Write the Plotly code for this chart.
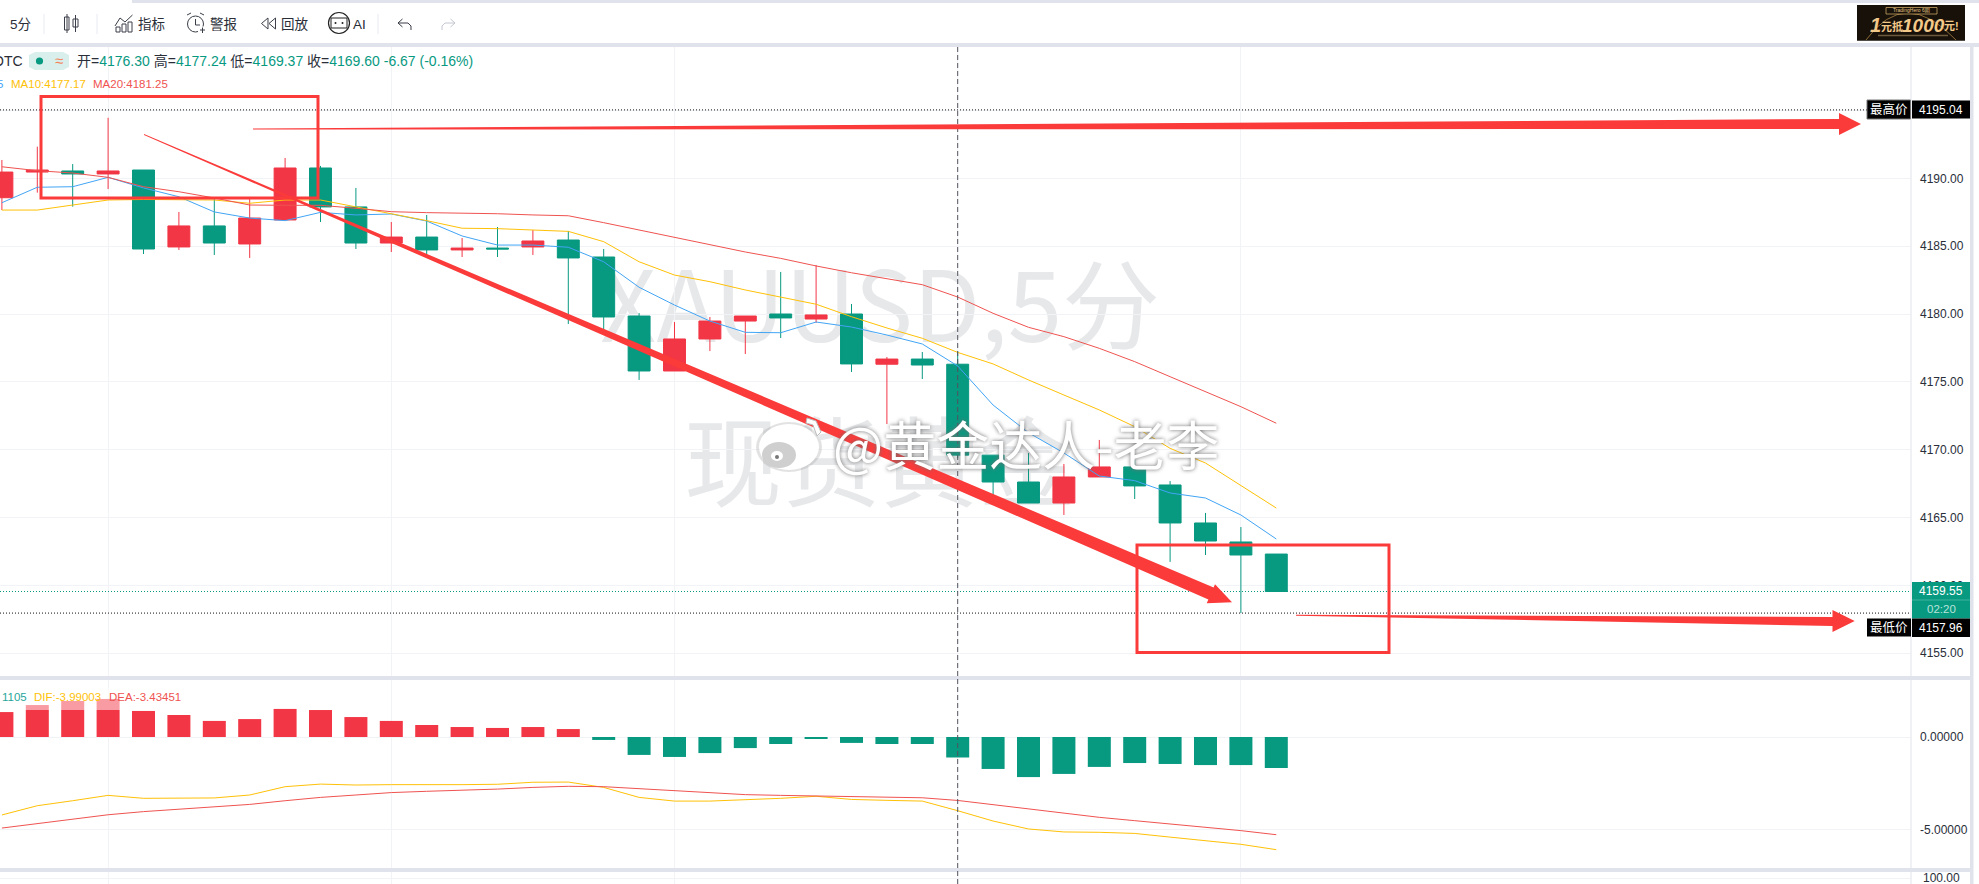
import plotly.graph_objects as go

# XAUUSD 5-minute session
candle_index = list(range(37))
opens = [4188.57, 4190.46, 4190.54, 4190.32, 4190.61, 4184.94, 4186.49, 4185.16, 4186.93, 4190.76,
         4187.89, 4185.23, 4185.67, 4184.72, 4184.86, 4184.94, 4185.45, 4184.20, 4179.85, 4175.80,
         4178.16, 4179.48, 4180.00, 4179.63, 4180.00, 4176.30, 4176.68, 4176.30, 4169.60, 4167.62,
         4166.07, 4167.99, 4168.73, 4167.40, 4164.60, 4163.20, 4162.31]
highs = [4191.35, 4192.33, 4191.05, 4194.46, 4190.61, 4187.52, 4188.47, 4188.47, 4191.50, 4190.91,
         4189.29, 4186.78, 4187.30, 4185.60, 4186.41, 4186.19, 4186.12, 4184.79, 4180.07, 4179.41,
         4179.78, 4179.85, 4183.10, 4183.61, 4180.74, 4176.83, 4177.20, 4177.24, 4169.60, 4169.76,
         4168.95, 4170.72, 4169.24, 4167.69, 4165.34, 4164.30, 4162.31]
lows = [4187.66, 4188.94, 4187.91, 4189.21, 4184.42, 4184.72, 4184.35, 4184.13, 4186.93, 4186.78,
        4184.79, 4184.57, 4184.42, 4184.20, 4184.20, 4184.35, 4179.26, 4178.82, 4175.14, 4175.80,
        4177.27, 4177.05, 4178.23, 4179.34, 4175.73, 4171.89, 4175.21, 4169.37, 4166.51, 4166.07,
        4165.19, 4167.99, 4166.37, 4161.73, 4162.24, 4157.96, 4159.55]
closes = [4190.46, 4190.61, 4190.32, 4190.54, 4184.79, 4186.49, 4185.23, 4187.07, 4190.76, 4187.89,
          4185.23, 4185.67, 4184.72, 4184.86, 4184.79, 4185.38, 4184.13, 4179.78, 4175.80, 4178.16,
          4179.48, 4179.85, 4179.71, 4179.93, 4176.32, 4176.68, 4176.24, 4169.60, 4167.62, 4166.07,
          4167.99, 4168.73, 4167.33, 4164.60, 4163.27, 4162.24, 4159.55]

ma5 = [4188.20, 4189.34, 4189.38, 4190.07, 4189.29, 4188.64, 4187.52, 4187.07, 4186.88, 4187.49,
       4187.30, 4187.37, 4186.85, 4185.75, 4185.08, 4185.08, 4184.92, 4183.85, 4181.97, 4180.66,
       4179.48, 4178.65, 4178.62, 4179.41, 4179.04, 4178.45, 4177.79, 4176.17, 4173.29, 4171.25,
       4169.76, 4168.06, 4167.72, 4166.81, 4166.44, 4165.19, 4163.42]
ma10 = [4187.66, 4187.66, 4188.03, 4188.40, 4188.44, 4188.40, 4188.40, 4188.16, 4188.40, 4188.40,
        4187.89, 4187.42, 4186.88, 4186.32, 4186.29, 4186.19, 4186.09, 4185.33, 4183.85, 4182.87,
        4182.38, 4181.77, 4181.23, 4180.72, 4179.80, 4178.97, 4178.21, 4177.17, 4176.32, 4175.14,
        4174.03, 4172.93, 4171.70, 4170.10, 4169.02, 4167.35, 4165.70]
ma20 = [4190.85, 4190.56, 4190.39, 4190.07, 4189.38, 4189.01, 4188.55, 4188.03, 4188.01, 4188.01,
        4187.79, 4187.54, 4187.47, 4187.44, 4187.39, 4187.30, 4187.24, 4186.73, 4186.19, 4185.62,
        4185.08, 4184.57, 4184.10, 4183.54, 4183.04, 4182.58, 4182.16, 4181.25, 4180.05, 4179.02,
        4178.33, 4177.47, 4176.49, 4175.38, 4174.27, 4173.17, 4171.95]

macd_hist = [1.35, 1.73, 1.95, 2.06, 1.41, 1.19, 0.87, 0.97, 1.52, 1.46,
             1.08, 0.87, 0.65, 0.54, 0.49, 0.54, 0.43, -0.16, -0.97, -1.08,
             -0.87, -0.60, -0.38, -0.11, -0.32, -0.38, -0.38, -1.11, -1.73, -2.17,
             -2.00, -1.62, -1.41, -1.46, -1.52, -1.52, -1.68]
dif = [-4.22, -3.72, -3.45, -3.16, -3.32, -3.29, -3.30, -3.14, -2.69, -2.55,
       -2.60, -2.58, -2.60, -2.58, -2.56, -2.45, -2.44, -2.73, -3.27, -3.47,
       -3.47, -3.41, -3.32, -3.21, -3.38, -3.43, -3.47, -3.99003, -4.55, -4.98,
       -5.14, -5.16, -5.22, -5.42, -5.63, -5.81, -6.10]
dea = [-4.93, -4.68, -4.44, -4.21, -4.04, -3.90, -3.77, -3.65, -3.45, -3.27,
       -3.14, -3.01, -2.94, -2.89, -2.82, -2.73, -2.67, -2.69, -2.80, -2.94,
       -3.05, -3.12, -3.16, -3.19, -3.23, -3.27, -3.29, -3.43451, -3.66, -3.92,
       -4.15, -4.35, -4.53, -4.71, -4.89, -5.07, -5.29]

price_ticks = [4155, 4160, 4165, 4170, 4175, 4180, 4185, 4190, 4195]
macd_ticks = [0, -5]
time_grid = [3, 11, 19, 27, 35]
crosshair_index = 27
session_high = 4195.04
session_low = 4157.96
last_price = 4159.55

UP = "#f23645"
DOWN = "#089981"
GRID = "#f2f3f6"
BAND = "#e0e3eb"
ARROW = "#fb3a3a"
TEXT = "#2a2e39"
SANS = "Liberation Sans, Noto Sans CJK SC, sans-serif"
CJK = "Noto Sans CJK SC, sans-serif"

W, H = 1979, 884


def fx(x):
    return x / W


def fy(y):
    return 1 - y / H


def rect(x0, y0, x1, y1, fill, line=None, width=1, layer="above"):
    return dict(type="rect", xref="paper", yref="paper", x0=fx(x0), x1=fx(x1), y0=fy(y0), y1=fy(y1),
                fillcolor=fill, line=dict(color=line or "rgba(0,0,0,0)", width=width if line else 0), layer=layer)


def seg(x0, y0, x1, y1, color, width=1, dash=None):
    return dict(type="line", xref="paper", yref="paper", x0=fx(x0), x1=fx(x1), y0=fy(y0), y1=fy(y1),
                line=dict(color=color, width=width, dash=dash), layer="above")


def circle(cx, cy, rx, ry, fill="rgba(0,0,0,0)", line=None, width=1):
    return dict(type="circle", xref="paper", yref="paper", x0=fx(cx - rx), x1=fx(cx + rx),
                y0=fy(cy - ry), y1=fy(cy + ry), fillcolor=fill,
                line=dict(color=line or "rgba(0,0,0,0)", width=width if line else 0), layer="above")


def poly(points, fill=None, line=None, width=1, closed=True):
    path = "M" + " L".join(f"{fx(x):.5f},{fy(y):.5f}" for x, y in points) + (" Z" if closed else "")
    return dict(type="path", xref="paper", yref="paper", path=path,
                fillcolor=fill or "rgba(0,0,0,0)",
                line=dict(color=line or "rgba(0,0,0,0)", width=width if line else 0), layer="above")


def note(text, x, y, size=12, color=TEXT, anchor="left", family=SANS, **font_extra):
    return dict(text=text, xref="paper", yref="paper", x=fx(x), y=fy(y), xanchor=anchor, yanchor="middle",
                showarrow=False, font=dict(size=size, color=color, family=family, **font_extra),
                borderpad=0, borderwidth=0)


def watermark(text, cy):
    # Label on a below-layer shape so the faded text sits under the candles
    return dict(type="rect", xref="paper", yref="paper", x0=fx(500), x1=fx(1260), y0=fy(cy - 60), y1=fy(cy + 60),
                layer="below", fillcolor="rgba(0,0,0,0)", line=dict(width=0),
                label=dict(text=text, textposition="middle center",
                           font=dict(size=98, color="#e7e8ea", family=CJK)))


PX_UNIT = 35.4
x_range = [-1.9 / PX_UNIT, (1911 - 1.9) / PX_UNIT]

fig = go.Figure()

fig.add_trace(go.Candlestick(
    x=candle_index, open=opens, high=highs, low=lows, close=closes,
    increasing=dict(line=dict(color=UP, width=1), fillcolor=UP),
    decreasing=dict(line=dict(color=DOWN, width=1), fillcolor=DOWN),
    whiskerwidth=0, xaxis="x", yaxis="y", showlegend=False))
for name, values, color in [("MA5", ma5, "#42a5f5"), ("MA10", ma10, "#ffc107"), ("MA20", ma20, "#ef5350")]:
    fig.add_trace(go.Scatter(x=candle_index, y=values, mode="lines", name=name,
                             line=dict(color=color, width=1), xaxis="x", yaxis="y", showlegend=False))

fig.add_trace(go.Bar(x=candle_index, y=macd_hist, width=0.65, xaxis="x2", yaxis="y2", showlegend=False,
                     marker=dict(color=[UP if v >= 0 else DOWN for v in macd_hist], line=dict(width=0))))
for name, values, color in [("DIF", dif, "#ffc107"), ("DEA", dea, "#ef5350")]:
    fig.add_trace(go.Scatter(x=candle_index, y=values, mode="lines", name=name,
                             line=dict(color=color, width=1), xaxis="x2", yaxis="y2", showlegend=False))
# Empty third pane keeps its own scale
fig.add_trace(go.Scatter(x=[candle_index[0]], y=[100], mode="markers", marker=dict(opacity=0),
                         xaxis="x3", yaxis="y3", showlegend=False, hoverinfo="skip"))

time_axis = dict(domain=[0, 1911 / W], range=x_range, tickmode="array", tickvals=time_grid, showticklabels=False,
                 ticks="", showgrid=True, gridcolor=GRID, gridwidth=1, zeroline=False, showline=False,
                 fixedrange=True)
value_axis = dict(side="right", showgrid=True, gridcolor=GRID, gridwidth=1, zeroline=False, showline=False,
                  ticks="", ticklabelstandoff=8, tickfont=dict(size=12, color=TEXT, family=SANS), fixedrange=True)

p_per_px = 1 / 13.57
m_per_px = 1 / 18.47

shapes = [watermark("XAUUSD,5分", 315), watermark("现货黄金", 472)]

# Frame: toolbar bands, pane separators, price-scale rule
shapes += [
    rect(132, 0, W, 3, BAND), rect(0, 43, W, 47, BAND),
    rect(0, 676, 1970, 680, BAND), rect(0, 868, 1970, 872, BAND),
    rect(1970, 47, 1973.5, 884, BAND),
    seg(1911, 47, 1911, 884, BAND),
]

# Session high, session low and last price guides
shapes += [
    dict(type="line", xref="paper", yref="y", x0=0, x1=fx(1867), y0=session_high, y1=session_high,
         line=dict(color="#111", width=1, dash="1px,2px"), layer="above"),
    dict(type="line", xref="paper", yref="y", x0=0, x1=fx(1911), y0=session_low, y1=session_low,
         line=dict(color="#111", width=1, dash="1px,2px"), layer="above"),
    dict(type="line", xref="paper", yref="y", x0=0, x1=fx(1911), y0=last_price, y1=last_price,
         line=dict(color=DOWN, width=1, dash="1px,2px"), layer="above"),
    # Crosshair through all panes
    dict(type="line", xref="x", yref="paper", x0=crosshair_index, x1=crosshair_index, y0=0, y1=fy(47),
         line=dict(color="#50535e", width=1, dash="5px,3px"), layer="above"),
]

# Scale tags
shapes += [
    rect(1867, 100, 1910.5, 119, "#000", "#777", 1),
    rect(1912, 100.5, 1970, 118.5, "#000"),
    rect(1912, 582, 1970, 618.5, DOWN),
    seg(1912, 600, 1970, 600, "#3fb39f"),
    rect(1867, 618.5, 1911, 636.5, "#000"),
    rect(1912, 618.5, 1970, 637, "#000"),
]

# Fading strip behind the MACD readout
shapes.append(rect(0, 688, 186, 710, "rgba(255,255,255,0.5)"))

# Hand-drawn markup
shapes += [
    rect(41, 96.5, 318, 198, "rgba(0,0,0,0)", ARROW, 3),
    rect(1137, 545, 1389, 652.5, "rgba(0,0,0,0)", ARROW, 3),
    poly([(253, 128.5), (1839, 119), (1839, 113), (1861, 124), (1839, 135), (1839, 129), (253, 129.5)], ARROW),
    poly([(144, 134), (1213.6, 587.5), (1215, 584.3), (1232, 602.3), (1206.7, 603.3), (1208.4, 599.5), (144, 135)],
         ARROW),
    poly([(1296, 614.7), (1832.5, 617), (1832.5, 610), (1854.7, 621), (1832.5, 632), (1832.5, 626), (1296, 615.7)],
         ARROW),
]

# Toolbar separators
shapes += [seg(x, 14, x, 34, "#e8eaf0") for x in (44, 97, 378)]

# Toolbar icons
ICON = "#3a3e48"
shapes += [
    # candle type
    rect(64.5, 17, 69, 30, "rgba(0,0,0,0)", ICON), seg(67, 14, 67, 33, ICON),
    rect(73, 19, 78, 27, "rgba(0,0,0,0)", ICON), seg(75.5, 15, 75.5, 32, ICON),
    # indicators
    poly([(115, 26), (120, 18), (125, 22), (132.5, 15)], line=ICON, closed=False),
    rect(116, 27, 120, 32, "rgba(0,0,0,0)", ICON), rect(122, 24, 126, 32, "rgba(0,0,0,0)", ICON),
    rect(128, 22, 132, 32, "rgba(0,0,0,0)", ICON),
    # alert
    circle(195.5, 24, 8, 8, line=ICON), seg(195.5, 19, 195.5, 25, ICON), seg(195.5, 25, 200, 25, ICON),
    seg(187, 15, 191, 13, ICON), seg(200, 13, 204, 15, ICON),
    rect(198, 26.5, 207, 34, "#ffffff"), seg(202.5, 27.5, 202.5, 33, ICON), seg(200, 30, 205, 30, ICON),
    # replay
    poly([(268, 18), (261.5, 23.5), (268, 29)], line=ICON), poly([(275.5, 18), (269, 23.5), (275.5, 29)], line=ICON),
    # AI
    circle(339, 23, 10.5, 10.5, line="#222", width=1.2),
    rect(331, 18, 347, 28, "rgba(0,0,0,0)", "#222"),
    circle(335.5, 23, 1, 1, fill="#222"), circle(342.5, 23, 1, 1, fill="#222"),
    # undo and redo
    poly([(411, 30), (411, 26), (408, 23), (398, 23)], line=ICON, closed=False),
    poly([(402.5, 19), (398, 23), (402.5, 27)], line=ICON, closed=False),
    poly([(442, 30), (442, 26), (445, 23), (455, 23)], line="#c3c6cf", closed=False),
    poly([(450.5, 19), (455, 23), (450.5, 27)], line="#c3c6cf", closed=False),
]

# Status pill
shapes += [
    dict(type="path", xref="paper", yref="paper", layer="above", fillcolor="#d9efeb", line=dict(width=0),
         path="M" + " L".join(f"{fx(x):.5f},{fy(y):.5f}" for x, y in
                              [(35, 52), (63, 52), (69, 55), (69, 67), (63, 70), (35, 70), (29, 67), (29, 55)]) + " Z"),
    circle(39.5, 61, 3.6, 3.6, fill=DOWN),
]

# Promo banner
shapes += [
    rect(1857, 5, 1965, 40.7, "#17110a"),
    dict(type="path", xref="paper", yref="paper", layer="above", fillcolor="rgba(0,0,0,0)",
         line=dict(color="#8a6a35", width=1),
         path=f"M{fx(1866):.5f},{fy(40):.5f} Q{fx(1905):.5f},{fy(-14):.5f} {fx(1956):.5f},{fy(40):.5f}"),
    rect(1886, 7.5, 1937, 14, "#17110a", "#c9a262", 0.8),
    seg(1878, 35.5, 1948, 35.5, "#6b5a3c", 1.5),
]

# Weibo badge
shapes += [
    circle(789, 447, 33, 25, fill="rgba(150,150,150,0.28)"),
    circle(789, 447, 30, 23, fill="#ffffff"),
    circle(779, 455, 17, 13, fill="#cfcfcf"),
    circle(777, 456, 6, 5, fill="#ffffff"),
    circle(777, 457, 2, 2, fill="#777777"),
    poly([(807, 418), (816, 421), (821, 432), (817, 436), (813, 425), (806, 423)], "#ffffff", "#bbbbbb", 1),
]

green_num = f"color:{DOWN}"
ohlc_parts = [("开", opens[27]), ("高", highs[27]), ("低", lows[27]), ("收", closes[27])]
ohlc_text = " ".join(f"{k}=<span style='{green_num}'>{v:.2f}</span>" for k, v in ohlc_parts)
ohlc_text += f"<span style='{green_num}'> -6.67 (-0.16%)</span>"

annotations = [
    note("5分", 20, 24, 13.5, anchor="center"),
    note("指标", 151.5, 24, 13.5, anchor="center"),
    note("警报", 223, 24, 13.5, anchor="center"),
    note("回放", 295, 24, 13.5, anchor="center"),
    note("AI", 359, 24, 13.5, anchor="center"),
    note("OTC", 22.5, 61, 14, anchor="right"),
    note("≈", 59, 60.5, 15, "#f2855c", anchor="center"),
    note(ohlc_text, 77, 61, 14),
    note("5", 3, 84, 11.5, "#42a5f5", anchor="right"),
    note("MA10:4177.17", 10.5, 84, 11.5, "#ffc107"),
    note("MA20:4181.25", 92.5, 84, 11.5, "#ef5350"),
    note("1105", 2, 697, 11.5, "#26a69a"),
    note("DIF:-3.99003", 34, 697, 11.5, "#ffc107"),
    note("DEA:-3.43451", 109, 697, 11.5, "#ef5350"),
    note("最高价", 1889, 109.5, 12.5, "#ffffff", anchor="center"),
    note(f"{session_high:.2f}", 1941, 109.5, 12, "#ffffff", anchor="center"),
    note(f"{last_price:.2f}", 1941, 591, 12, "#ffffff", anchor="center"),
    note("02:20", 1941, 609, 11.5, "#b8e3da", anchor="center"),
    note("最低价", 1889, 627.5, 12.5, "#ffffff", anchor="center"),
    note(f"{session_low:.2f}", 1941, 627.5, 12, "#ffffff", anchor="center"),
    note("100.00", 1941, 878, 12, TEXT, anchor="center"),
    note("TradingHero 6期", 1911.5, 10.8, 5, "#e6c384", anchor="center"),
    note("<b><i>1</i></b>", 1875, 25, 20, "#f3c98a", anchor="center"),
    note("<b>元抵</b>", 1892, 26, 11, "#f3c98a", anchor="center"),
    note("<b><i>1000</i></b>", 1923, 25, 19, "#f3c98a", anchor="center"),
    note("<b>元!</b>", 1951, 26, 11, "#f3c98a", anchor="center"),
    note("@黄金达人-老李", 1026, 443, 53, "#ffffff", anchor="center", family=CJK,
         shadow="0px 0px 4px #6f6f6f"),
]

fig.update_layout(
    width=W, height=H, autosize=False, margin=dict(l=0, r=0, t=0, b=0, pad=0),
    paper_bgcolor="#ffffff", plot_bgcolor="#ffffff", showlegend=False, hovermode=False,
    boxgap=0.38, boxgroupgap=0, bargap=0.35, dragmode=False,
    font=dict(family=SANS),
    xaxis=dict(time_axis, rangeslider=dict(visible=False), anchor="y"),
    xaxis2=dict(time_axis, anchor="y2", matches="x"),
    xaxis3=dict(time_axis, anchor="y3", matches="x"),
    yaxis=dict(value_axis, domain=[fy(676), fy(47)], anchor="x",
               range=[4190 - (676 - 178.3) * p_per_px, 4190 + (178.3 - 47) * p_per_px],
               tickmode="array", tickvals=price_ticks, ticktext=[f"{v:.2f}" for v in price_ticks]),
    yaxis2=dict(value_axis, domain=[fy(868), fy(680)], anchor="x2",
                range=[-(868 - 737) * m_per_px, (737 - 680) * m_per_px],
                tickmode="array", tickvals=macd_ticks, ticktext=[f"{v:.5f}" for v in macd_ticks]),
    yaxis3=dict(value_axis, domain=[0, fy(872)], anchor="x3", range=[90, 110], showticklabels=False,
                tickmode="array", tickvals=[100]),
    shapes=shapes, annotations=annotations,
)

fig.write_html("out.html")
